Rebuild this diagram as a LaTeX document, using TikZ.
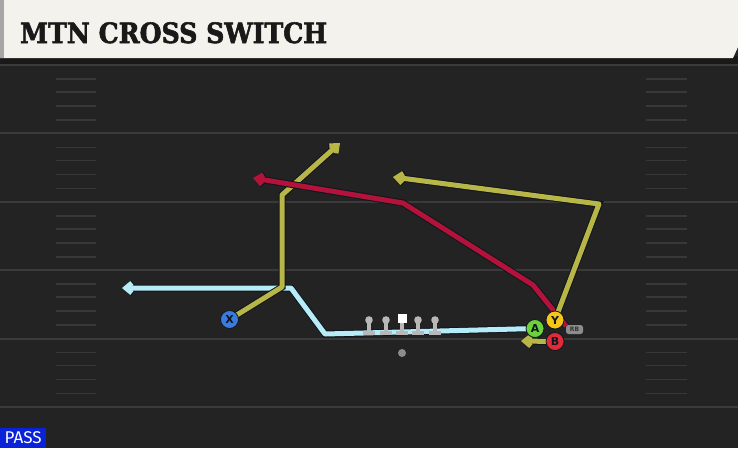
\documentclass[tikz,border=0pt]{standalone}
\usepackage{fontspec}
\setmainfont{Fira Sans}
\newfontfamily\titlefont[FakeStretch=0.9, BoldFeatures={FakeBold=2}]{DejaVu Serif}
\newfontfamily\letterfont{DejaVu Sans}
\usetikzlibrary{arrows.meta}

\definecolor{fieldbg}{HTML}{232323}
\definecolor{yardline}{HTML}{3A3A3A}
\definecolor{hashmark}{HTML}{383838}
\definecolor{headerbg}{HTML}{F4F2EC}
\definecolor{outline}{HTML}{10161C}
\definecolor{routecyan}{HTML}{B6ECF8}
\definecolor{routeyellow}{HTML}{B9B648}
\definecolor{routered}{HTML}{B3123B}
\definecolor{xblue}{HTML}{3A7BE0}
\definecolor{yyellow}{HTML}{F5C518}
\definecolor{agreen}{HTML}{6CD13B}
\definecolor{bred}{HTML}{E02A3A}
\definecolor{passblue}{HTML}{0A22D8}

\pgfdeclarelayer{field}
\pgfdeclarelayer{routes}
\pgfsetlayers{field,routes,main}

\tikzset{
	route/.style={line width=5pt, line join=round,
		-{Straight Barb[length=6pt,width=10pt]},
		preaction={draw=outline, line width=7pt}},
	player/.style={circle, draw=outline, line width=0.8pt, minimum size=18pt,
		inner sep=0pt, font=\letterfont\bfseries\fontsize{11}{11}\selectfont, text=outline},
	pin/.style={fill=black!28!white}
}

\begin{document}
\begin{tikzpicture}[x=1pt, y=-1pt]
	\useasboundingbox (0,0) rectangle (738,448);

	\begin{pgfonlayer}{field}
		\fill[fieldbg] (0,0) rectangle (738,448);
		\fill[black!90!white] (0,56) rectangle (738,64);
		\foreach \k in {0,...,5}
			\draw[yardline, line width=2pt] (0,65+68.4*\k) -- (738,65+68.4*\k);
		\foreach \k in {0,...,4}
			\foreach \d in {14,27,41,55} {
				\draw[hashmark, line width=1.6pt] (56,65+68.4*\k+\d) -- (96,65+68.4*\k+\d);
				\draw[hashmark, line width=1.6pt] (646,65+68.4*\k+\d) -- (687,65+68.4*\k+\d);
			}
		\fill[headerbg] (0,0) -- (738,0) -- (738,47) -- (733,58) -- (0,58) -- cycle;
		\fill[black!35!white] (0,0) rectangle (4,58);
	\end{pgfonlayer}

	\node[anchor=base west, inner sep=0pt, text=black!90!white,
		font=\titlefont\bfseries\fontsize{28}{28}\selectfont] (title) at (20,43) {MTN CROSS SWITCH};

	% line and qb
	\foreach \px in {369,386,418,435} {
		\fill[pin] (\px-2,320) rectangle (\px+2,332);
		\fill[pin] (\px-6,331) rectangle (\px+6,335);
		\fill[pin] (\px,320) circle [radius=3.8];
	}
	\fill[pin] (400,320) rectangle (404,332);
	\fill[pin] (396,331) rectangle (408,335);
	\fill[white] (397.5,313.5) rectangle (406.5,322.5);
	\node[circle, fill=black!45!white, minimum size=8pt, inner sep=0pt] (qb) at (402,353) {};

	% receivers
	\node[player, fill=xblue] (x) at (229.5,319.5) {X};
	\node[player, fill=agreen] (a) at (535,328.5) {A};
	\node[player, fill=bred] (b) at (555,341.5) {B};
	\node[player, fill=yyellow] (y) at (555,320) {Y};
	\node[rounded corners=2.5pt, fill=black!45!white, minimum width=17pt, minimum height=9pt,
		inner sep=0pt, font=\letterfont\bfseries\fontsize{6}{6}\selectfont, text=black!80!white] (rb) at (574.5,329.5) {RB};

	\coordinate (redstart) at (566,326);

	\begin{pgfonlayer}{routes}
		\draw[route, routecyan] (a.center) -- (325,334) -- (291,288) -- (122,288);
		\draw[route, routeyellow] (x.center) -- (282,287) -- (282,195) -- (340,143);
		\draw[route, routered] (redstart) -- (533,285) -- (403,203) -- (253,178);
		\draw[route, routeyellow] (y.center) -- (599,204) -- (393,177);
		\draw[route, routeyellow] (b.center) -- (521,341);
	\end{pgfonlayer}

	\node[fill=passblue, text=white, anchor=south west, minimum width=46pt, minimum height=20pt,
		inner sep=0pt, font=\fontsize{17}{17}\selectfont] (play) at (0,448) {PASS};

\end{tikzpicture}
\end{document}
